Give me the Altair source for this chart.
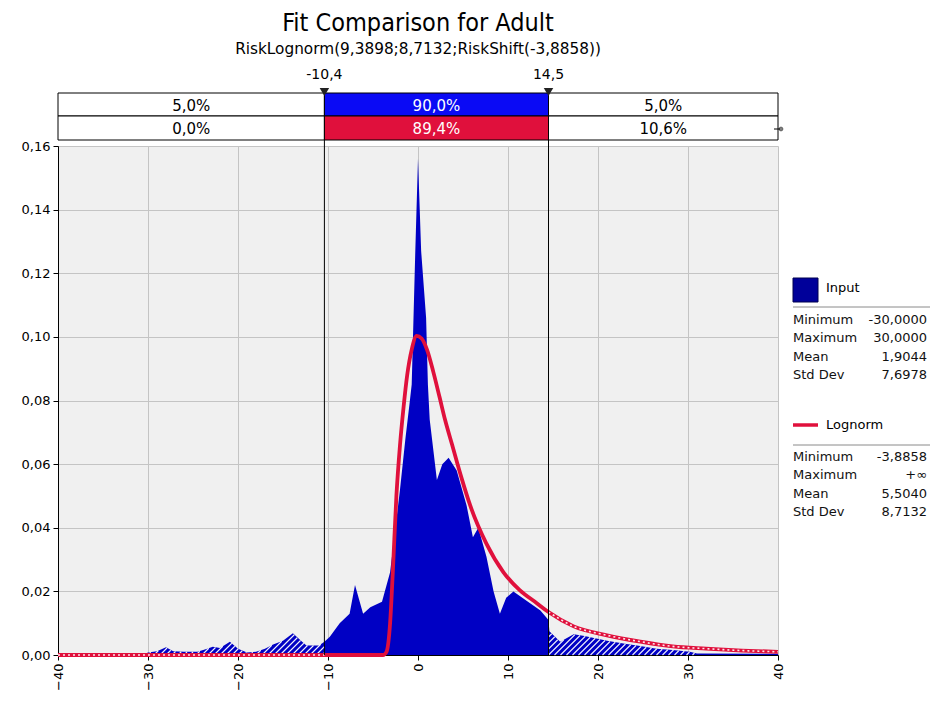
import altair as alt
import numpy as np
import pandas as pd

# ---------------- data ----------------
TITLE = "Fit Comparison for Adult"
SUBTITLE = "RiskLognorm(9,3898;8,7132;RiskShift(-3,8858))"

hist_x = [-40, -30.6, -30.0, -29.0, -28.0, -27.2, -26.0, -24.5, -23.6, -22.8,
          -22.0, -20.9, -20.0, -19.0, -18.0, -17.0, -16.1, -15.0, -13.9, -13.0,
          -12.4, -11.0, -10.4, -9.8, -8.7, -7.6, -7.0, -6.1, -5.3, -4.0,
          -3.1, -2.0, -1.4, -0.9, -0.7, -0.5, -0.3, 0.0, 0.35, 0.9,
          1.1, 1.3, 2.1, 2.7, 3.4, 4.3, 5.4, 6.1, 6.7, 7.6,
          8.4, 9.1, 9.8, 10.6, 12.1, 13.6, 14.5, 14.6, 15.8, 17.3,
          18.5, 21.0, 23.0, 24.7, 26.5, 28.3, 30.2, 31.0, 40.0]
hist_y = [0.0, 0.0, 0.0008, 0.0012, 0.0024, 0.0012, 0.0010, 0.0010, 0.0018, 0.0026,
          0.0022, 0.0042, 0.0020, 0.0008, 0.0010, 0.0020, 0.0033, 0.0045, 0.0068, 0.0045,
          0.0030, 0.0030, 0.0042, 0.0057, 0.0100, 0.0130, 0.0220, 0.0130, 0.0150, 0.0167,
          0.0260, 0.0520, 0.0680, 0.0800, 0.0850, 0.1060, 0.1270, 0.1560, 0.1270, 0.1060,
          0.0850, 0.0740, 0.0550, 0.0600, 0.0620, 0.0580, 0.0470, 0.0370, 0.0400, 0.0310,
          0.0200, 0.0130, 0.0180, 0.0200, 0.0170, 0.0140, 0.0110, 0.0075, 0.0042, 0.0065,
          0.0060, 0.0045, 0.0035, 0.0028, 0.0020, 0.0016, 0.0010, 0.0005, 0.0004]

fit_x = [-40, -10.4, -3.89, -3.5, -3.1, -2.8, -2.4, -2.0, -1.6, -1.2,
         -0.7, -0.15, 0.4, 1.0, 1.7, 2.4, 3.0, 3.8, 4.8, 5.8,
         7.6, 9.5, 11.3, 13.2, 14.5, 17.3, 21.0, 24.7, 28.3, 32.0,
         36.0, 40.0]
fit_y = [0.0, 0.0, 0.0, 0.001, 0.010, 0.026, 0.050, 0.066, 0.078, 0.088,
         0.096, 0.1003, 0.0995, 0.096, 0.089, 0.081, 0.074, 0.066, 0.056, 0.047,
         0.035, 0.026, 0.0204, 0.0163, 0.0135, 0.0090, 0.0062, 0.0042, 0.0027, 0.0020,
         0.0014, 0.0010]

cut_values = [-10.4, 14.5]
cut_labels = ["-10,4", "14,5"]
band_edges = [-40, -10.4, 14.5, 40]
input_pct = ["5,0%", "90,0%", "5,0%"]
fit_pct = ["0,0%", "89,4%", "10,6%"]

stat_names = ["Minimum", "Maximum", "Mean", "Std Dev"]
input_stats = ["-30,0000", "30,0000", "1,9044", "7,6978"]
fit_stats = ["-3,8858", "+∞", "5,5040", "8,7132"]
series_names = ["Input", "Lognorm"]

x_ticks = [-40, -30, -20, -10, 0, 10, 20, 30, 40]
y_ticks = [0.0, 0.02, 0.04, 0.06, 0.08, 0.10, 0.12, 0.14, 0.16]

# ---------------- styling ----------------
W, H = 720, 509
FONT = "DejaVu Sans"
BLUE_AREA = "#0000c4"
BLUE_BAND = "#0a0af5"
RED = "#e0103c"
LEGEND_BLUE = "#00009a"

lo, hi = cut_values
PX_X = W / 80.0
PX_Y = H / 0.16

df_hist = pd.DataFrame({"x": hist_x, "v": hist_y})
df_fit = pd.DataFrame({"x": fit_x, "v": fit_y, "i": range(len(fit_x))})
df_fit["seg"] = np.where(df_fit["x"] <= lo, "left", np.where(df_fit["x"] >= hi, "right", "mid"))


# hatch lines ("///") under the curve in the tails, derived from the histogram
def hatch(x_start, x_end, spacing_px=6.0):
    segs = []
    t = np.arange(0, 60, 0.25)
    x0 = x_start - 60 / PX_X
    while x0 < x_end:
        xs_ = x0 + t / PX_X
        ys_ = t / PX_Y
        top = np.interp(xs_, hist_x, hist_y)
        inside = (xs_ >= x_start) & (xs_ <= x_end) & (ys_ <= top)
        idx = np.where(inside)[0]
        if len(idx) > 1:
            i0 = idx[0]
            i1 = i0
            while i1 + 1 < len(inside) and inside[i1 + 1]:
                i1 += 1
            if (i1 - i0) * 0.25 > 1.5:
                segs.append((xs_[i0], ys_[i0], xs_[i1], ys_[i1]))
        x0 += spacing_px / PX_X
    return segs


hs = hatch(-40, lo) + hatch(hi, 40)
df_hatch = pd.DataFrame(hs, columns=["x1", "y1", "x2", "y2"])

xs = alt.Scale(domain=[-40, 40], nice=False, zero=False)
ys = alt.Scale(domain=[0, 0.16], nice=False, zero=True)

x_axis = alt.Axis(values=x_ticks, labelAngle=270, format="d", title=None, grid=True,
                  tickSize=5, labelPadding=3)
y_axis = alt.Axis(values=y_ticks, title=None, grid=True, tickSize=5, labelPadding=3,
                  labelExpr="replace(format(datum.value, '.2f'), '.', ',')")

area = alt.Chart(df_hist).mark_area(color=BLUE_AREA, interpolate="linear").encode(
    x=alt.X("x:Q", scale=xs, axis=x_axis),
    y=alt.Y("v:Q", scale=ys, axis=y_axis, stack=None),
)

hatch_layer = alt.Chart(df_hatch).mark_rule(color="white", strokeWidth=1.1, opacity=0.95).encode(
    x=alt.X("x1:Q", scale=xs), y=alt.Y("y1:Q", scale=ys),
    x2="x2:Q", y2="y2:Q",
)

fit_line = alt.Chart(df_fit).mark_line(color=RED, strokeWidth=3.8, interpolate="monotone").encode(
    x=alt.X("x:Q", scale=xs), y=alt.Y("v:Q", scale=ys), order="i:Q",
)
fit_dash = alt.Chart(df_fit).transform_filter("datum.seg != 'mid'").mark_line(
    color="white", strokeWidth=1.6, strokeDash=[2, 3], opacity=0.9, interpolate="monotone"
).encode(
    x=alt.X("x:Q", scale=xs), y=alt.Y("v:Q", scale=ys), order="i:Q", detail="seg:N",
)

df_cuts = pd.DataFrame({"x": cut_values, "label": cut_labels})
cut_rules = alt.Chart(df_cuts).mark_rule(color="black", strokeWidth=1).encode(
    x=alt.X("x:Q", scale=xs), y=alt.value(-53), y2=alt.value(H),
)
cut_tri = alt.Chart(df_cuts).mark_point(shape="triangle-down", filled=True, size=90,
                                        color="#222222", opacity=1).encode(
    x=alt.X("x:Q", scale=xs), y=alt.value(-54),
)
cut_text = alt.Chart(df_cuts).mark_text(font=FONT, fontSize=14, baseline="middle",
                                        color="black").encode(
    x=alt.X("x:Q", scale=xs), y=alt.value(-71), text="label:N",
)

df_band = pd.DataFrame({
    "x0": band_edges[:-1], "x1": band_edges[1:],
    "p1": input_pct, "p2": fit_pct, "k": [0, 1, 2],
})


def band_row(field, y0, y1, fill):
    rect = alt.Chart(df_band).mark_rect(stroke="black", strokeWidth=1).encode(
        x=alt.X("x0:Q", scale=xs), x2="x1:Q",
        y=alt.value(y0), y2=alt.value(y1),
        fill=alt.condition("datum.k == 1", alt.value(fill), alt.value("white")),
    )
    txt = alt.Chart(df_band).transform_calculate(xm="(datum.x0 + datum.x1) / 2").mark_text(
        font=FONT, fontSize=15, baseline="middle"
    ).encode(
        x=alt.X("xm:Q", scale=xs), y=alt.value((y0 + y1) / 2 + 1), text=f"{field}:N",
        color=alt.condition("datum.k == 1", alt.value("white"), alt.value("black")),
    )
    return rect + txt


band1 = band_row("p1", -53, -30, BLUE_BAND)
band2 = band_row("p2", -30, -6, RED)

one = pd.DataFrame({"a": [0]})
marker = alt.Chart(one).mark_point(shape="circle", size=14, filled=False, color="black",
                                   strokeWidth=1).encode(x=alt.value(723), y=alt.value(-17))
marker_line = alt.Chart(one).mark_rule(color="black", strokeWidth=1).encode(
    x=alt.value(716), x2=alt.value(724), y=alt.value(-17))

# ---------------- legend ----------------
LX = 735
LXR = 869
LFS = 13
leg_sq = alt.Chart(one).mark_rect(fill=LEGEND_BLUE, stroke="#000050", strokeWidth=1).encode(
    x=alt.value(LX), x2=alt.value(LX + 25), y=alt.value(132), y2=alt.value(156))
leg_in = alt.Chart(one).mark_text(font=FONT, fontSize=LFS, align="left", baseline="middle",
                                  color="black").encode(
    x=alt.value(LX + 33), y=alt.value(142), text=alt.value(series_names[0]))
sep1 = alt.Chart(one).mark_rule(color="#8a8a8a", strokeWidth=1).encode(
    x=alt.value(LX), x2=alt.value(872), y=alt.value(161))
leg_red = alt.Chart(one).mark_rule(color=RED, strokeWidth=3.5).encode(
    x=alt.value(LX), x2=alt.value(LX + 25), y=alt.value(279))
leg_fit = alt.Chart(one).mark_text(font=FONT, fontSize=LFS, align="left", baseline="middle",
                                   color="black").encode(
    x=alt.value(LX + 33), y=alt.value(279), text=alt.value(series_names[1]))
sep2 = alt.Chart(one).mark_rule(color="#8a8a8a", strokeWidth=1).encode(
    x=alt.value(LX), x2=alt.value(872), y=alt.value(299))


def stat_block(values, ytop):
    names = alt.Chart(one).mark_text(font=FONT, fontSize=LFS, align="left", baseline="top",
                                     lineBreak="\n", lineHeight=18.4, color="#111111").encode(
        x=alt.value(LX), y=alt.value(ytop), text=alt.value("\n".join(stat_names)))
    vals = alt.Chart(one).mark_text(font=FONT, fontSize=LFS, align="right", baseline="top",
                                    lineBreak="\n", lineHeight=18.4, color="#111111").encode(
        x=alt.value(LXR), y=alt.value(ytop), text=alt.value("\n".join(values)))
    return names + vals


stats_in = stat_block(input_stats, 168)
stats_fit = stat_block(fit_stats, 305)

chart = alt.layer(
    area, hatch_layer, fit_line, fit_dash, cut_rules,
    band1, band2, cut_tri, cut_text, marker_line, marker,
    leg_sq, leg_in, sep1, leg_red, leg_fit, sep2, stats_in, stats_fit,
).properties(
    width=W, height=H,
    background="white",
    autosize=alt.AutoSizeParams(type="none"),
    padding={"left": 58, "top": 146, "right": 152, "bottom": 47},
    title=alt.TitleParams(
        text=TITLE, subtitle=SUBTITLE, anchor="middle", frame="group",
        font="DejaVu Sans Condensed", fontSize=25, fontWeight="normal", color="black",
        subtitleFont="DejaVu Sans", subtitleFontSize=15.3, subtitleColor="black",
        subtitlePadding=6, offset=11,
    ),
).configure_view(
    fill="#f0f0f0", strokeOpacity=0,
).configure_axis(
    domainColor="black", tickColor="black", gridColor="#c4c4c4",
    labelFont=FONT, labelFontSize=13, labelColor="black",
)

chart.save("out.html", embed_options={"renderer": "svg", "actions": False})
